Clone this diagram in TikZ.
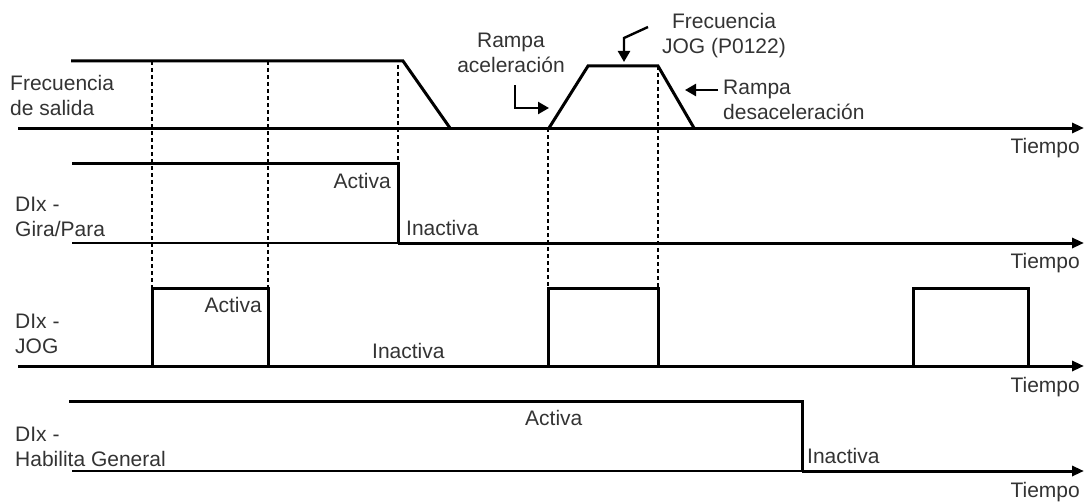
\documentclass[tikz,border=0pt]{standalone}
\usepackage{fontspec}
\setmainfont{Liberation Sans}
\usetikzlibrary{arrows.meta}

\tikzset{
  wave/.style={line width=3pt, line join=miter},
  axis/.style={line width=3pt, -{Triangle[length=12pt,width=10pt]}},
  thinaxis/.style={line width=1.8pt},
  guide/.style={line width=1.4pt, dash pattern=on 4pt off 3pt},
  note/.style={line width=2.4pt, -{Triangle[length=11pt,width=12pt]}},
  lbl/.style={inner sep=0pt, text=black!80, font=\fontsize{21}{25}\selectfont},
}

\begin{document}
\begin{tikzpicture}[x=1pt,y=-1pt]
  \useasboundingbox (0,0) rectangle (1087,503);
  % dashed guides
  \draw[guide] (152,61) -- (152,288);
  \draw[guide] (268,61) -- (268,288);
  \draw[guide] (398,65) -- (398,163);
  \draw[guide] (548,128) -- (548,288);
  \draw[guide] (658,66) -- (658,288);

  % frecuencia de salida
  \draw[axis] (18,128) -- (1084,128);
  \draw[wave] (71,61) -- (403,61) -- (450,128);
  \draw[wave] (549,128) -- (588,66) -- (658,66) -- (694,128);
  \node[lbl, anchor=north west, align=left] (frec) at (10,75) {Frecuencia\\de salida};
  \node[lbl, anchor=base east] (t1) at (1080,153) {Tiempo};
  \node[lbl, anchor=north, align=center] (racel) at (511,33) {Rampa\\aceleración};
  \node[lbl, anchor=north, align=center] (fjog) at (724,13) {Frecuencia\\JOG (P0122)};
  \node[lbl, anchor=north west, align=left] (rdes) at (723,80) {Rampa\\desaceleración};
  \coordinate (racel1) at (515,85);
  \coordinate (racel2) at (549,108);
  \coordinate (fjog1) at (648,27);
  \coordinate (fjog2) at (624,62);
  \coordinate (rdes1) at (718,90);
  \coordinate (rdes2) at (685,90);
  \draw[note] (racel1) |- (racel2);
  \draw[note] (fjog1) -- (624,38) -- (fjog2);
  \draw[note] (rdes1) -- (rdes2);

  % gira/para
  \draw[thinaxis] (72,243) -- (398,243);
  \draw[wave] (72,163) -- (398,163) -- (398,243);
  \draw[axis] (398,243) -- (1084,243);
  \node[lbl, anchor=north west, align=left] (gira) at (15,197) {DIx -\\Gira/Para};
  \node[lbl, anchor=base east] (act2) at (391,188) {Activa};
  \node[lbl, anchor=base west] (inact2) at (406,235) {Inactiva};
  \node[lbl, anchor=base east] (t2) at (1080,268) {Tiempo};

  % jog
  \draw[axis] (18,366) -- (1084,366);
  \draw[wave] (152,366) -- (152,288) -- (268,288) -- (268,366);
  \draw[wave] (548,366) -- (548,288) -- (658,288) -- (658,366);
  \draw[wave] (913,366) -- (913,288) -- (1028,288) -- (1028,366);
  \node[lbl, anchor=north west, align=left] (jog) at (15,314) {DIx -\\JOG};
  \node[lbl, anchor=base east] (act3) at (262,312) {Activa};
  \node[lbl, anchor=base west] (inact3) at (372,358) {Inactiva};
  \node[lbl, anchor=base east] (t3) at (1080,392) {Tiempo};

  % habilita general
  \draw[thinaxis] (72,471) -- (802,471);
  \draw[wave] (69,401) -- (802,401) -- (802,471);
  \draw[axis] (802,471) -- (1084,471);
  \node[lbl, anchor=north west, align=left] (hab) at (15,427) {DIx -\\Habilita General};
  \node[lbl, anchor=base west] (act4) at (525,425) {Activa};
  \node[lbl, anchor=base west] (inact4) at (807,463) {Inactiva};
  \node[lbl, anchor=base east] (t4) at (1080,497) {Tiempo};
\end{tikzpicture}
\end{document}
